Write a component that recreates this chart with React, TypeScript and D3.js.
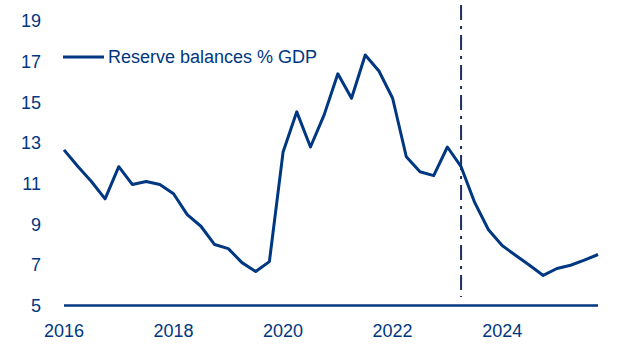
import * as d3 from "d3";

// quarterly observations, 2016Q1 .. 2025Q4
const startYear = 2016;
const reserveBalances = [
  12.66, 11.85, 11.1, 10.25, 11.83, 10.95, 11.1, 10.95,
  10.5, 9.47, 8.9, 8.0, 7.8, 7.11, 6.67, 7.16,
  12.55, 14.53, 12.8, 14.38, 16.4, 15.2, 17.33, 16.54,
  15.2, 12.32, 11.58, 11.39, 12.8, 11.83, 10.06, 8.73,
  7.95, 7.46, 6.98, 6.48, 6.82, 6.98, 7.23, 7.51,
];
const yTicks = [5, 7, 9, 11, 13, 15, 17, 19];
const xTicks = [2016, 2018, 2020, 2022, 2024];
const forecastStart = 2023.25;
const seriesName = "Reserve balances % GDP";

const W = 619;
const H = 354;
const BLUE = "#003781";
const FONT = "'Liberation Sans', Arial, sans-serif";

export default function App() {
  /* scales */
  const x = d3.scaleLinear().domain([2016, 2025.75]).range([64, 598]);
  const y = d3.scaleLinear().domain([5, 19]).range([305.5, 21]);

  const points = reserveBalances.map((v, i) => ({ t: startYear + i / 4, v }));

  const line = d3
    .line<{ t: number; v: number }>()
    .x((d) => x(d.t))
    .y((d) => y(d.v));

  return (
    <svg
      width={W}
      height={H}
      style={{ position: "absolute", left: 0, top: 0, background: "#fff" }}
      fontFamily={FONT}
    >
      {/* y tick labels */}
      {yTicks.map((t) => (
        <text
          key={t}
          x={41}
          y={y(t)}
          dy="0.35em"
          textAnchor="end"
          fontSize={18}
          fill={BLUE}
        >
          {t}
        </text>
      ))}

      {/* x tick labels */}
      {xTicks.map((t) => (
        <text
          key={t}
          x={x(t)}
          y={331}
          dy="0.35em"
          textAnchor="middle"
          fontSize={18}
          fill={BLUE}
        >
          {t}
        </text>
      ))}

      {/* baseline */}
      <line
        x1={x(2016)}
        x2={x(2025.75)}
        y1={y(5)}
        y2={y(5)}
        stroke={BLUE}
        strokeWidth={2.5}
      />

      {/* forecast marker */}
      <line
        x1={x(forecastStart)}
        x2={x(forecastStart)}
        y1={5}
        y2={297}
        stroke="#1b2f5e"
        strokeWidth={2}
        strokeDasharray="15 6 3 6"
      />

      <path
        d={line(points) ?? ""}
        fill="none"
        stroke={BLUE}
        strokeWidth={3}
        strokeLinejoin="round"
      />

      {/* legend */}
      <line x1={63} x2={104} y1={57} y2={57} stroke={BLUE} strokeWidth={3} />
      <text x={108} y={57} dy="0.35em" fontSize={18} fill={BLUE}>
        {seriesName}
      </text>
    </svg>
  );
}
